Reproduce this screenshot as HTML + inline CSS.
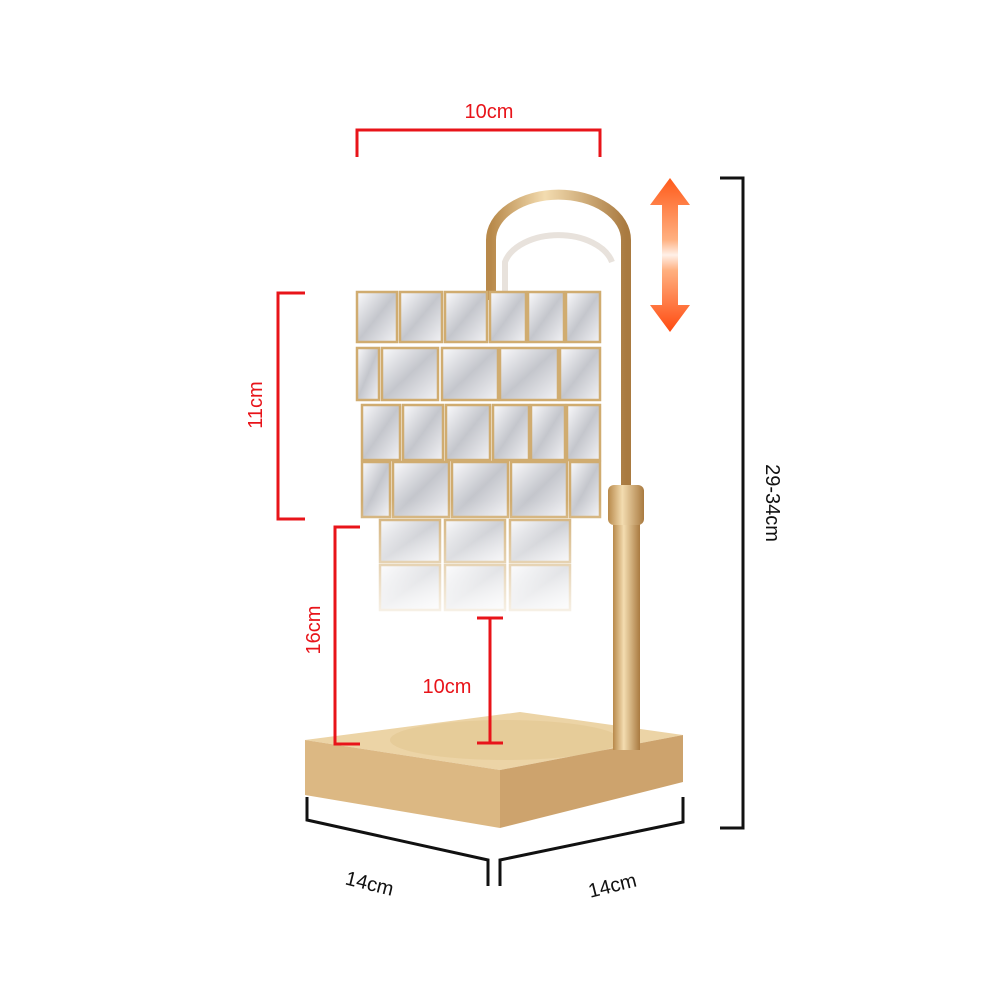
<!DOCTYPE html>
<html><head><meta charset="utf-8"><style>
html,body{margin:0;padding:0;background:#fff;}
svg{display:block}
text{font-family:"Liberation Sans",sans-serif;}
</style></head><body>
<svg width="1000" height="1000" viewBox="0 0 1000 1000" xmlns="http://www.w3.org/2000/svg">
<defs>
<linearGradient id="gold" x1="0" x2="1"><stop offset="0" stop-color="#b8894a"/><stop offset="0.4" stop-color="#f3dcb0"/><stop offset="1" stop-color="#a97a40"/></linearGradient>
<linearGradient id="arr" x1="0" y1="0" x2="0" y2="1"><stop offset="0" stop-color="#ff5a1a"/><stop offset="0.4" stop-color="#ffb080"/><stop offset="0.5" stop-color="#fff0e8"/><stop offset="0.6" stop-color="#ffb080"/><stop offset="1" stop-color="#ff4a10"/></linearGradient>
<linearGradient id="cry" x1="0" y1="0" x2="1" y2="1"><stop offset="0" stop-color="#fafafc"/><stop offset="0.5" stop-color="#c4c6cc"/><stop offset="1" stop-color="#f2f2f5"/></linearGradient>
<linearGradient id="fade" x1="0" y1="0" x2="0" y2="1"><stop offset="0" stop-color="#fff" stop-opacity="0"/><stop offset="1" stop-color="#fff" stop-opacity="0.85"/></linearGradient>
</defs>
<rect width="1000" height="1000" fill="#fff"/>
<polygon points="305,740 520,712 683,735 500,770" fill="#ecd4a6"/>
<ellipse cx="505" cy="740" rx="115" ry="20" fill="#e3c691" opacity="0.6"/>
<polygon points="305,740 500,770 500,828 305,795" fill="#dcb883"/>
<polygon points="500,770 683,735 683,782 500,828" fill="#cda36d"/>
<path d="M491,300 L491,240 A67,45 0 0 1 626,240 L626,495" fill="none" stroke="url(#gold)" stroke-width="10"/>
<path d="M505,300 L505,262 A55,35 0 0 1 612,262" fill="none" stroke="#e8e2dc" stroke-width="6"/>
<rect x="613" y="520" width="27" height="230" fill="url(#gold)"/>
<rect x="608" y="485" width="36" height="40" rx="6" fill="url(#gold)"/>
<g stroke="#d0ac70" stroke-width="2.5">
<rect x="357" y="292" width="40" height="50" fill="url(#cry)"/><rect x="400" y="292" width="42" height="50" fill="url(#cry)"/><rect x="445" y="292" width="42" height="50" fill="url(#cry)"/><rect x="490" y="292" width="36" height="50" fill="url(#cry)"/><rect x="528" y="292" width="36" height="50" fill="url(#cry)"/><rect x="566" y="292" width="34" height="50" fill="url(#cry)"/>
<rect x="357" y="348" width="22" height="52" fill="url(#cry)"/><rect x="382" y="348" width="56" height="52" fill="url(#cry)"/><rect x="442" y="348" width="56" height="52" fill="url(#cry)"/><rect x="500" y="348" width="58" height="52" fill="url(#cry)"/><rect x="560" y="348" width="40" height="52" fill="url(#cry)"/>
<rect x="362" y="405" width="38" height="55" fill="url(#cry)"/><rect x="403" y="405" width="40" height="55" fill="url(#cry)"/><rect x="446" y="405" width="44" height="55" fill="url(#cry)"/><rect x="493" y="405" width="36" height="55" fill="url(#cry)"/><rect x="531" y="405" width="34" height="55" fill="url(#cry)"/><rect x="567" y="405" width="33" height="55" fill="url(#cry)"/>
<rect x="362" y="462" width="28" height="55" fill="url(#cry)"/><rect x="393" y="462" width="56" height="55" fill="url(#cry)"/><rect x="452" y="462" width="56" height="55" fill="url(#cry)"/><rect x="511" y="462" width="56" height="55" fill="url(#cry)"/><rect x="570" y="462" width="30" height="55" fill="url(#cry)"/>
<rect x="380" y="520" width="60" height="42" fill="url(#cry)"/><rect x="445" y="520" width="60" height="42" fill="url(#cry)"/><rect x="510" y="520" width="60" height="42" fill="url(#cry)"/>
<rect x="380" y="565" width="60" height="45" fill="url(#cry)"/><rect x="445" y="565" width="60" height="45" fill="url(#cry)"/><rect x="510" y="565" width="60" height="45" fill="url(#cry)"/>
</g>
<rect x="355" y="500" width="250" height="115" fill="url(#fade)"/>
<g stroke="#e8141a" stroke-width="3" fill="none">
<path d="M357,157 V130 H600 V157"/>
<path d="M305,293 H278 V519 H305"/>
<path d="M360,527 H335 V744 H360"/>
<path d="M477,618 H503 M490,618 V743 M477,743 H503"/>
</g>
<g fill="#e8141a" font-size="20">
<text x="489" y="118" text-anchor="middle">10cm</text>
<text x="447" y="693" text-anchor="middle">10cm</text>
<text transform="translate(262,405) rotate(-90)" text-anchor="middle">11cm</text>
<text transform="translate(320,630) rotate(-90)" text-anchor="middle">16cm</text>
</g>
<polygon points="670,178 690,205 678,205 678,305 690,305 670,332 650,305 662,305 662,205 650,205" fill="url(#arr)"/>
<g stroke="#111" stroke-width="3" fill="none">
<path d="M720,178 H743 V828 H720"/>
<path d="M307,797 V820 L488,860 V886"/>
<path d="M500,886 V860 L683,822 V797"/>
</g>
<g fill="#111" font-size="20">
<text transform="translate(766,503) rotate(90)" text-anchor="middle">29-34cm</text>
<text transform="translate(368,890) rotate(14)" text-anchor="middle">14cm</text>
<text transform="translate(614,892) rotate(-14)" text-anchor="middle">14cm</text>
</g>
</svg>
</body></html>
